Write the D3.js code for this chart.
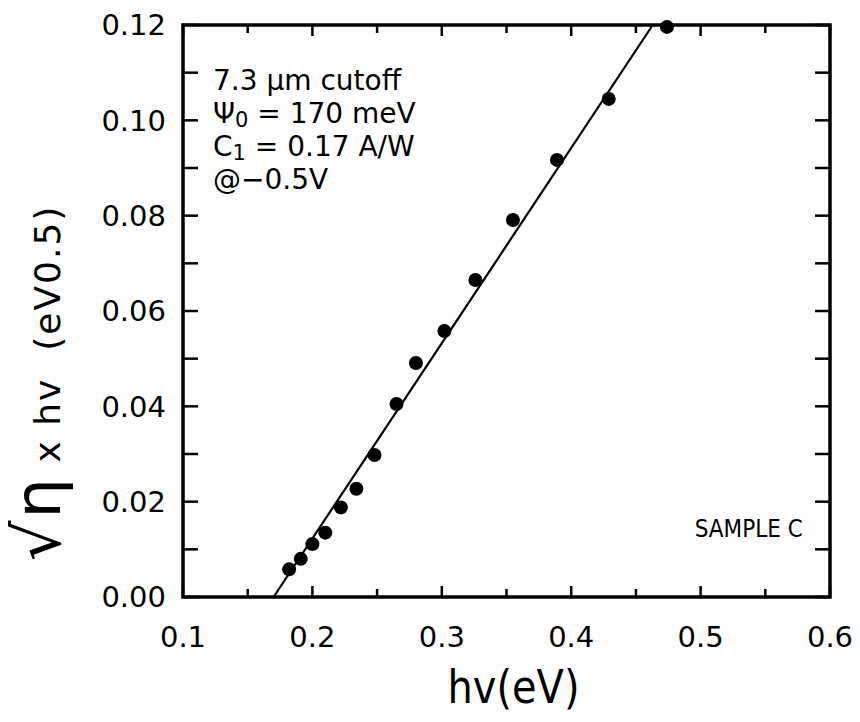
<!DOCTYPE html>
<html>
<head>
<meta charset="utf-8">
<script src="https://cdn.jsdelivr.net/npm/d3@7"></script>
<style>
  body { margin: 0; background: #fff; }
  text { font-family: "DejaVu Sans", sans-serif; fill: #000; }
</style>
</head>
<body>
<div class="chart"></div>
<script>
// data
var hvValues = [0.182, 0.191, 0.200, 0.210, 0.222, 0.234, 0.248, 0.265, 0.280, 0.302, 0.326, 0.355, 0.389, 0.429, 0.474];
var yValues = [0.0058, 0.0080, 0.0111, 0.0135, 0.0188, 0.0227, 0.0298, 0.0405, 0.0491, 0.0558, 0.0665, 0.0791, 0.0917, 0.1045, 0.1196];
var fitLine = [[0.170, 0.0], [0.463, 0.12]];
var xTickLabels = [0.1, 0.2, 0.3, 0.4, 0.5, 0.6];
var yTickLabels = [0.00, 0.02, 0.04, 0.06, 0.08, 0.10, 0.12];
var noteLines = ["7.3 \u03bcm cutoff", "\u03a8|0| = 170 meV", "C|1| = 0.17 A/W", "@\u22120.5V"];

var svgWidth = 860;
var svgHeight = 722;
var margin = { top: 25, right: 30, bottom: 125, left: 183 };
var width = svgWidth - margin.left - margin.right;
var height = svgHeight - margin.top - margin.bottom;

var svg = d3.select(".chart")
  .append("svg")
  .attr("width", svgWidth)
  .attr("height", svgHeight);

var chart = svg.append("g")
  .attr("transform", "translate(" + margin.left + "," + margin.top + ")");

var xScale = d3.scaleLinear().domain([0.1, 0.6]).range([0, width]);
var yScale = d3.scaleLinear().domain([0, 0.12]).range([height, 0]);

// inward ticks on all four sides
function tickLen(v, step, big, small) {
  return Math.abs(Math.round(v / step) % 2) === 0 ? big : small;
}
var xMinor = d3.range(0.1, 0.6001, 0.05);
var yMinor = d3.range(0, 0.1201, 0.01);

chart.selectAll(".xtick-b").data(xMinor).enter().append("line")
  .attr("x1", function(d) { return xScale(d); })
  .attr("x2", function(d) { return xScale(d); })
  .attr("y1", height)
  .attr("y2", function(d) { return height - tickLen(d, 0.05, 11, 8); })
  .attr("stroke", "#000").attr("stroke-width", 2.5);

chart.selectAll(".xtick-t").data(xMinor).enter().append("line")
  .attr("x1", function(d) { return xScale(d); })
  .attr("x2", function(d) { return xScale(d); })
  .attr("y1", 0)
  .attr("y2", function(d) { return tickLen(d, 0.05, 11, 8); })
  .attr("stroke", "#000").attr("stroke-width", 2.5);

chart.selectAll(".ytick-l").data(yMinor).enter().append("line")
  .attr("x1", 0)
  .attr("x2", 15)
  .attr("y1", function(d) { return yScale(d); })
  .attr("y2", function(d) { return yScale(d); })
  .attr("stroke", "#000").attr("stroke-width", 2.5);

chart.selectAll(".ytick-r").data(yMinor).enter().append("line")
  .attr("x1", width)
  .attr("x2", width - 15)
  .attr("y1", function(d) { return yScale(d); })
  .attr("y2", function(d) { return yScale(d); })
  .attr("stroke", "#000").attr("stroke-width", 2.5);

// frame
chart.append("rect")
  .attr("x", 0).attr("y", 0)
  .attr("width", width).attr("height", height)
  .attr("fill", "none")
  .attr("stroke", "#000")
  .attr("stroke-width", 3.5);

// tick labels
chart.selectAll(".xlab").data(xTickLabels).enter().append("text")
  .attr("x", function(d) { return xScale(d); })
  .attr("y", height + 50)
  .attr("text-anchor", "middle")
  .style("font-size", "29px")
  .text(function(d) { return d3.format(".1f")(d); });

chart.selectAll(".ylab").data(yTickLabels).enter().append("text")
  .attr("x", -17)
  .attr("y", function(d) { return yScale(d); })
  .attr("dy", "0.36em")
  .attr("text-anchor", "end")
  .style("font-size", "29px")
  .text(function(d) { return d3.format(".2f")(d); });

// fitted line
var line = d3.line()
  .x(function(d) { return xScale(d[0]); })
  .y(function(d) { return yScale(d[1]); });

chart.append("path")
  .datum(fitLine)
  .attr("d", line)
  .attr("fill", "none")
  .attr("stroke", "#000")
  .attr("stroke-width", 2.2);

// data points
chart.selectAll("circle")
  .data(hvValues)
  .enter()
  .append("circle")
  .attr("cx", function(d) { return xScale(d); })
  .attr("cy", function(d, i) { return yScale(yValues[i]); })
  .attr("r", 7)
  .attr("fill", "#000");

// annotation block, "|x|" marks a subscript
var notes = chart.append("g");
noteLines.forEach(function(s, i) {
  var t = notes.append("text")
    .attr("x", 30)
    .attr("y", 65 + i * 33)
    .style("font-size", "28px");
  s.split("|").forEach(function(part, j) {
    var sp = t.append("tspan").text(part);
    if (j === 1) sp.attr("dy", 4).style("font-size", "21px");
    if (j === 2) sp.attr("dy", -4);
  });
});

chart.append("text")
  .attr("x", xScale(0.4955))
  .attr("y", yScale(0.0126))
  .attr("textLength", 108)
  .attr("lengthAdjust", "spacingAndGlyphs")
  .style("font-size", "25px")
  .text("SAMPLE C");

// axis titles
chart.append("text")
  .attr("x", width / 2 + 7)
  .attr("y", height + 106)
  .attr("text-anchor", "middle")
  .attr("textLength", 132)
  .attr("lengthAdjust", "spacingAndGlyphs")
  .style("font-size", "46px")
  .text("hv(eV)");

chart.append("text")
  .attr("transform", "translate(" + (-margin.left + 60) + "," + (height / 2 + 72) + ") rotate(-90)")
  .attr("text-anchor", "middle")
  .style("font-size", "36px")
  .style("letter-spacing", "2px")
  .style("white-space", "pre")
  .html('<tspan style="font-size:64px">\u221a\u03b7</tspan> x hv  (eV0.5)');
</script>
</body>
</html>
